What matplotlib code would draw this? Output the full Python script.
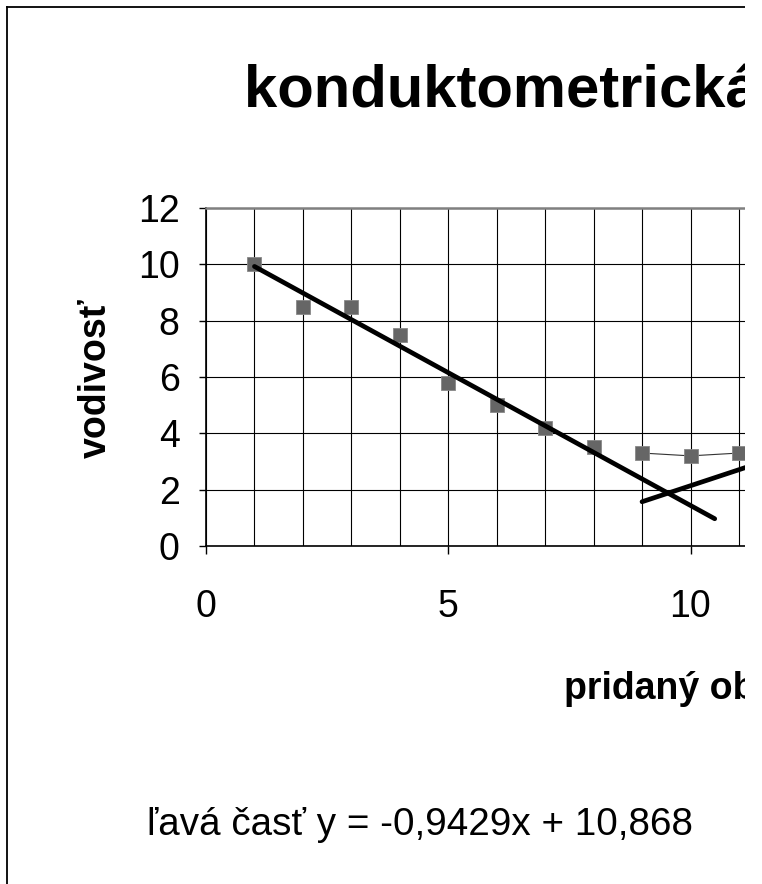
import matplotlib
matplotlib.use('Agg')
import matplotlib.pyplot as plt
import numpy as np
from matplotlib.patches import Rectangle
from matplotlib.lines import Line2D
from matplotlib.ticker import MultipleLocator

plt.rcParams['font.family'] = ['Liberation Sans', 'DejaVu Sans']

# ---- data ----
x_left = [1, 2, 3, 4, 5, 6, 7, 8]
y_left = [10.0, 8.5, 8.5, 7.5, 5.8, 5.0, 4.2, 3.5]
x_right = [9, 10, 11]
y_right = [3.3, 3.2, 3.3]
left_fit = (-0.9429, 10.868)      # slope, intercept
right_fit = (0.569, -3.55)
left_fit_range = (1, 10.5)
right_fit_range = (9, 12)
xticks = [0, 5, 10, 15]
yticks = [0, 2, 4, 6, 8, 10, 12]
title = 'konduktometrická titrácia'
xlabel = 'pridaný objem'
ylabel = 'vodivosť'
equation = 'ľavá časť y = -0,9429x + 10,868'

W, H = 762, 884
fig = plt.figure(figsize=(W / 100, H / 100), dpi=100)


def fx(px):
    return px / W


def fy(py):
    return 1 - py / H


xmax = 16
ppu = 48.45
ax = fig.add_axes([fx(206), fy(546), xmax * ppu / W, (546 - 208) / H])
ax.set_xlim(0, xmax)
ax.set_ylim(0, 12)

ax.xaxis.set_major_locator(MultipleLocator(5))
ax.xaxis.set_minor_locator(MultipleLocator(1))
ax.set_xticks(xticks)
ax.set_yticks(yticks)
ax.grid(True, which='both', axis='x', color='black', linewidth=0.8)
ax.grid(True, which='major', axis='y', color='black', linewidth=0.8)
ax.set_axisbelow(True)

ax.tick_params(axis='x', which='major', direction='out', length=6, width=1,
               pad=25, labelsize=27)
ax.tick_params(axis='x', which='minor', length=0)
ax.tick_params(axis='y', direction='out', length=5, width=1, pad=14,
               labelsize=27)

ax.spines['left'].set_color('black')
ax.spines['left'].set_linewidth(1.2)
ax.spines['bottom'].set_color('black')
ax.spines['bottom'].set_linewidth(1.2)
ax.spines['top'].set_color('#808080')
ax.spines['top'].set_linewidth(1.8)
ax.spines['right'].set_visible(False)

# series
ax.plot(x_left, y_left, linestyle='none', marker='s', markersize=10,
        markerfacecolor='#666666', markeredgecolor='#888888',
        markeredgewidth=0.6, zorder=4, clip_on=False)
ax.plot(x_right, y_right, linestyle='-', color='#333333', linewidth=0.8,
        marker='s', markersize=10, markerfacecolor='#666666',
        markeredgecolor='#888888', markeredgewidth=0.6, zorder=4)

# trend lines
xl = np.array(left_fit_range)
ax.plot(xl, np.polyval(left_fit, xl), color='black', linewidth=3.4,
        solid_capstyle='round', zorder=5)
xr = np.array(right_fit_range)
ax.plot(xr, np.polyval(right_fit, xr), color='black', linewidth=3.4,
        solid_capstyle='round', zorder=5)

# texts
fig.text(fx(244), fy(107), title, fontsize=43, fontweight='bold',
         ha='left', va='baseline')
fig.text(fx(96), fy(378), ylabel, fontsize=27, fontweight='bold',
         rotation=90, ha='center', va='center')
fig.text(fx(564), fy(689), xlabel, fontsize=27, fontweight='bold',
         ha='left', va='center')
fig.text(fx(147), fy(825), equation, fontsize=27.8, ha='left', va='center')

# outer chart border (left and top)
fig.add_artist(Line2D([fx(7), fx(7)], [fy(7), 0], color='black',
                      linewidth=1.3, transform=fig.transFigure))
fig.add_artist(Line2D([fx(7), 1], [fy(7), fy(7)], color='black',
                      linewidth=1.3, transform=fig.transFigure))

# image is cut off at the right
fig.add_artist(Rectangle((fx(745), 0), 1 - fx(745), 1, facecolor='white',
                         edgecolor='none', transform=fig.transFigure,
                         zorder=100))

fig.savefig('out.png', dpi=100)
